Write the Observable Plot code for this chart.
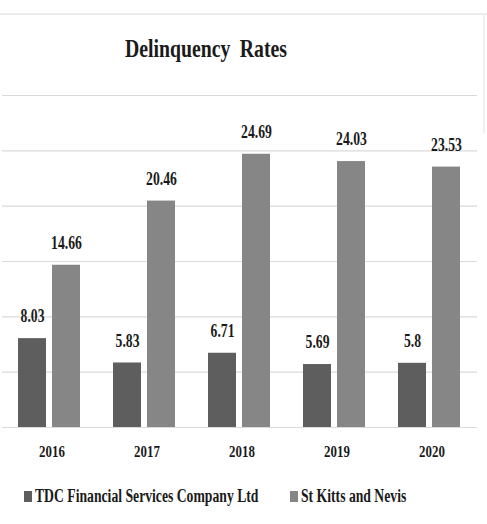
<!DOCTYPE html>
<html>
<head>
<meta charset="utf-8">
<script src="https://cdn.jsdelivr.net/npm/d3@7"></script>
<script src="https://cdn.jsdelivr.net/npm/@observablehq/plot@0.6"></script>
<style>
  body { margin: 0; background: #fff; }
  #chart {
    position: relative; width: 487px; height: 524px; overflow: hidden;
    font-family: "Liberation Serif", serif; font-weight: bold; color: #1a1a1a;
  }
  #frame-top { position: absolute; left: 0; top: 13px; width: 487px; border-top: 2px solid #ececec; }
  #frame-right { position: absolute; left: 483px; top: 13px; height: 120px; border-left: 2px solid #f0f0f0; }
  #title {
    position: absolute; left: 0; top: 36px; width: 412px; text-align: center;
    font-size: 26px; line-height: 26px; word-spacing: 6px;
    transform: scaleX(0.76); transform-origin: 206px 0; white-space: nowrap;
  }
  #plot { position: absolute; left: 0; top: 80px; }
  .swatch { position: absolute; width: 8px; height: 11px; }
  .key {
    position: absolute; font-size: 18px; line-height: 18px; white-space: nowrap;
    transform: scaleX(0.76); transform-origin: 0 0;
  }
</style>
</head>
<body>
<div id="chart">
  <div id="frame-top"></div>
  <div id="frame-right"></div>
  <div id="title">Delinquency Rates</div>
  <div id="plot"></div>
  <div id="legend"></div>
</div>
<script>
// Delinquency rates (%) by year for the two series
const years = ["2016", "2017", "2018", "2019", "2020"];
const seriesNames = ["TDC Financial Services Company Ltd", "St Kitts and Nevis"];
const tdcRates = [8.03, 5.83, 6.71, 5.69, 5.8];
const stKittsRates = [14.66, 20.46, 24.69, 24.03, 23.53];
const gridValues = [0, 5, 10, 15, 20, 25, 30];
const seriesColors = ["#5e5e5e", "#868686"];

const rows = years.flatMap((year, i) => [
  {year, series: seriesNames[0], rate: tdcRates[i]},
  {year, series: seriesNames[1], rate: stKittsRates[i]}
]);

const chart = Plot.plot({
  width: 487,
  height: 387,
  marginTop: 15,
  marginBottom: 40,
  marginLeft: 0,
  marginRight: 9,
  style: {fontFamily: "'Liberation Serif', serif", fontWeight: "bold", color: "#1a1a1a", background: "transparent"},
  fx: {domain: years, padding: 0, label: null, axis: null},
  x: {domain: seriesNames, axis: null, paddingInner: 0.17, paddingOuter: 0.45},
  y: {domain: [0, 30], axis: null},
  color: {domain: seriesNames, range: seriesColors},
  marks: [
    Plot.ruleY(gridValues, {stroke: "#dadada", strokeWidth: 1.2}),
    Plot.barY(rows, {fx: "year", x: "series", y: "rate", fill: "series"}),
    Plot.text(rows, {
      fx: "year", x: "series", y: "rate", text: d => String(d.rate),
      dy: -22, fontSize: 18, fontWeight: "bold", fill: "#1a1a1a"
    }),
    Plot.axisFx({anchor: "bottom", tickSize: 0, tickPadding: 17, fontSize: 17, fontWeight: "bold", label: null, dx: 2, fill: "#1a1a1a"})
  ]
});
document.getElementById("plot").appendChild(chart);

// Narrow the SVG lettering to the condensed look of the rest of the text
chart.querySelectorAll("text").forEach(t => {
  const len = t.getComputedTextLength();
  if (len > 0) {
    t.setAttribute("textLength", (len * 0.76).toFixed(1));
    t.setAttribute("lengthAdjust", "spacingAndGlyphs");
  }
});

// Legend below the chart
const legend = document.getElementById("legend");
const keyPositions = [24, 290];
seriesNames.forEach((name, i) => {
  const sw = document.createElement("div");
  sw.className = "swatch";
  sw.style.left = keyPositions[i] + "px";
  sw.style.top = "491px";
  sw.style.background = seriesColors[i];
  legend.appendChild(sw);
  const label = document.createElement("div");
  label.className = "key";
  label.style.left = (keyPositions[i] + 11) + "px";
  label.style.top = "487px";
  label.textContent = name;
  legend.appendChild(label);
});
</script>
</body>
</html>
